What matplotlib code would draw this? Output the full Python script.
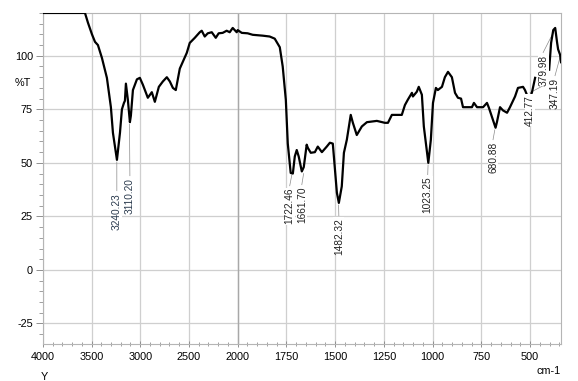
import numpy as np
import matplotlib
matplotlib.use('Agg')
import matplotlib.pyplot as plt
from matplotlib.ticker import FixedLocator, MultipleLocator

plt.rcParams['font.family'] = ['Liberation Sans', 'DejaVu Sans']
plt.rcParams['axes.unicode_minus'] = False

# IR spectrum (wavenumber in cm-1, %T); NaN = gap in trace
wavenumber = [4000, 3567, 3536, 3495, 3464, 3434, 3393, 3342, 3301, 3280,
              3239, 3208, 3188, 3167, 3157, 3147, 3127, 3106, 3096, 3075,
              3034, 3004, 2973, 2922, 2881, 2850, 2809, 2768, 2727, 2696,
              2665, 2635, 2594, 2522, 2492, 2440, 2389, 2369, 2338, 2307,
              2266, 2225, 2195, 2154, 2113, 2082, 2051, 2010, 2000, 1979,
              1949, 1923, 1872, 1836, 1810, 1784, 1769, 1753, 1743, 1728,
              1717, 1707, 1697, 1687, 1671, 1661, 1646, 1640, 1625, 1604,
              1589, 1568, 1543, 1527, 1512, 1502, 1491, 1481, 1466, 1455,
              1440, 1420, 1409, 1389, 1363, 1337, 1286, 1260, 1245, 1229,
              1209, 1158, 1142, 1127, 1106, 1101, 1081, 1071, 1055, 1045,
              1030, 1022, 1009, 998, 983, 973, 952, 937, 921, 901,
              885, 870, 854, 844, 824, 798, 788, 772, 741, 721,
              711, 690, 677, 670, 654, 639, 618, 603, 577, 562,
              536, 526, 510, 505, 490, 474, 440, 402, 392, 381,
              371, 361, 356, 346, 341]
transmittance = [120, 120, 115.4, 110, 106.5, 105, 99, 89.7, 76, 64,
                 51.4, 64, 75, 78, 79, 87, 79.5, 69, 72, 84,
                 89, 89.7, 86.5, 80.4, 83, 78.5, 85.5, 88, 90, 88,
                 85, 84, 94, 101.4, 106, 108.4, 111, 111.7, 109, 110.5,
                 111, 108.4, 110.5, 110.7, 111.7, 111, 113, 111, 112, 110.7,
                 110.5, 109.8, 109.4, 109, 108, 104, 95, 79.4, 59, 45.3,
                 45, 53, 56, 53, 46, 48, 58.5, 57, 54.7, 55,
                 57.6, 55, 57.6, 59.4, 59, 48, 36, 31.3, 39, 54.7,
                 60.8, 72.4, 68.7, 63, 67, 69, 69.6, 69, 68.7, 68.7,
                 72.4, 72.4, 77, 79.5, 82.7, 81, 83.2, 85.5, 81.8, 67,
                 56, 50, 60.8, 78, 85, 84, 85.5, 90, 92.5, 90,
                 82.7, 80.4, 80, 76, 76, 76, 78, 76, 76, 78,
                 75.7, 70, 66.4, 69, 76, 74.5, 73.4, 76, 81, 85,
                 85.5, 84, 80.4, 79, 83, 89.7, np.nan, 93.5, 106, 112,
                 113, 106, 103, 100.5, 97]

# peak picks
peak_labels = ['3240.23', '3110.20', '1722.46', '1661.70', '1482.32',
               '1023.25', '680.88', '412.77', '379.98', '347.19']
peak_wn = [3240.23, 3110.20, 1722.46, 1661.70, 1482.32,
           1023.25, 680.88, 412.77, 379.98, 347.19]
peak_pct = [51.4, 69, 45.3, 46, 31.3, 50, 66.4, 88, 112, 100]

# layout of the peak labels: (x in cm-1, top of text in %T)
label_pos = [(3240, 36), (3106, 43), (1733, 38.3), (1671, 38.8), (1481, 24.3),
             (1025, 43.5), (690, 59.8), (500, 81.8), (433, 100.5), (372, 89.7)]
label_col = ['#2b3b4e', '#2b3b4e'] + ['#222222'] * 8


def fwd(x):
    x = np.asarray(x, dtype=float)
    return np.where(x > 2000, 2000 + (x - 2000) / 2.0, x)


def inv(u):
    u = np.asarray(u, dtype=float)
    return np.where(u > 2000, 2000 + (u - 2000) * 2.0, u)


fig = plt.figure(figsize=(5.78, 3.81), dpi=100)
ax = fig.add_axes([0.074, 0.097, 0.897, 0.869])
ax.set_xscale('function', functions=(fwd, inv))

ax.plot(wavenumber, transmittance, color='black', lw=1.6, solid_joinstyle='round',
        zorder=3)

for lab, wn, pct, (tx, ty), c in zip(peak_labels, peak_wn, peak_pct, label_pos, label_col):
    ax.plot([wn, tx], [pct - 1, ty + 1], color='#8a8a8a', lw=0.5, zorder=2)
    ax.text(tx, ty, lab, rotation=90, ha='center', va='top', fontsize=7.3,
            color=c, zorder=4,
            bbox=dict(facecolor='white', edgecolor='none', pad=0.3))

ax.set_xlim(4000, 340)
ax.set_ylim(-34.6, 120)

major_x = [4000, 3500, 3000, 2500, 2000, 1750, 1500, 1250, 1000, 750, 500]
minor_x = list(range(3900, 2000, -100)) + list(range(1950, 340, -50))
ax.xaxis.set_major_locator(FixedLocator(major_x))
ax.xaxis.set_minor_locator(FixedLocator(minor_x))
ax.yaxis.set_major_locator(FixedLocator([-25, 0, 25, 50, 75, 100]))
ax.yaxis.set_minor_locator(MultipleLocator(5))

ax.grid(True, which='major', color='#cfcfcf', lw=0.9)
ax.axvline(2000, color='#a8a8a8', lw=1.0, zorder=1)
ax.set_axisbelow(True)

ax.tick_params(axis='y', which='major', direction='out', length=5, width=0.7,
               color='#909090', labelsize=7.8, pad=2)
ax.tick_params(axis='y', which='minor', direction='out', length=3, width=0.6,
               color='#909090')
ax.tick_params(axis='x', which='major', direction='inout', length=5, width=0.7,
               color='#909090', labelsize=7.8, pad=3)
ax.tick_params(axis='x', which='minor', direction='inout', length=3, width=0.6,
               color='#909090')
for s in ax.spines.values():
    s.set_color('#b5b5b5')
    s.set_linewidth(0.8)

ax.text(-0.022, 87.5, '%T', transform=ax.get_yaxis_transform(), ha='right',
        va='center', fontsize=7.8)
ax.text(0.003, -0.085, 'Y', transform=ax.transAxes, ha='center', va='top',
        fontsize=7.8)
ax.text(1.0, -0.065, 'cm-1', transform=ax.transAxes, ha='right', va='top',
        fontsize=7.8)

fig.savefig('out.png', dpi=100)
